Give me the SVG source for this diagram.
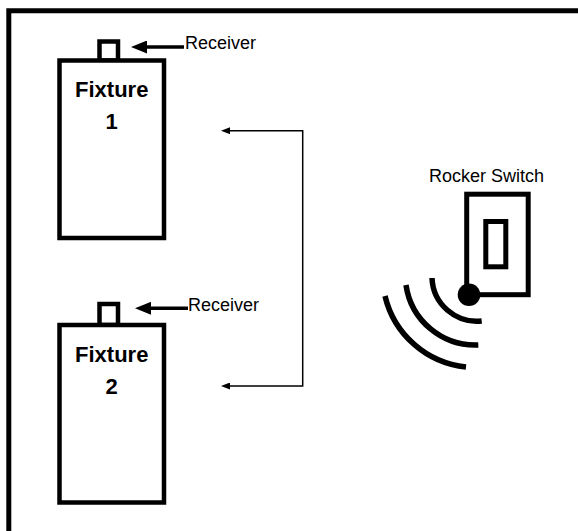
<svg xmlns="http://www.w3.org/2000/svg" width="578" height="531" viewBox="0 0 578 531">
  <style>
    .box { fill: #fff; stroke: #000; stroke-width: 4.5; }
    .sw { fill: none; stroke: #000; stroke-width: 5; }
    .wave { fill: none; stroke: #000; stroke-width: 5.5; stroke-linecap: butt; }
    .lbl { font-family: "Liberation Sans", Arial, sans-serif; font-size: 18px; fill: #000; }
    .title { font-family: "Liberation Sans", Arial, sans-serif; font-size: 22px; font-weight: bold; fill: #000; text-anchor: middle; }
    .thin { fill: none; stroke: #000; stroke-width: 1.5; }
    .thick { fill: none; stroke: #000; stroke-width: 3.5; }
  </style>
  <defs>
    <marker id="headSmall" markerUnits="userSpaceOnUse" markerWidth="9" markerHeight="7" refX="4" refY="3.5" orient="auto">
      <path d="M0,0 L9,3.5 L0,7 z" fill="#000"/>
    </marker>
    <marker id="headBig" markerUnits="userSpaceOnUse" markerWidth="16" markerHeight="13" refX="6" refY="6.5" orient="auto">
      <path d="M0,0 L16,6.5 L0,13 z" fill="#000"/>
    </marker>
  </defs>
  <rect width="578" height="531" fill="#fff"/>

  <g id="frame">
    <path d="M8.8,531 V10.8 H578" fill="none" stroke="#000" stroke-width="5" stroke-linejoin="miter"/>
  </g>

  <g id="fixture-1">
    <rect class="box" x="99.5" y="41.5" width="18.5" height="19"/>
    <rect class="box" x="59.5" y="60.5" width="104.5" height="177.5"/>
    <text class="title" x="111.7" y="97">Fixture</text>
    <text class="title" x="111.7" y="128.5">1</text>
  </g>

  <g id="receiver-label-1">
    <text class="lbl" x="185" y="48.5">Receiver</text>
  </g>

  <g id="fixture-2">
    <rect class="box" x="99.5" y="304" width="18.5" height="21"/>
    <rect class="box" x="59.5" y="325" width="104.5" height="177.5"/>
    <text class="title" x="111.7" y="362">Fixture</text>
    <text class="title" x="111.7" y="393.5">2</text>
  </g>

  <g id="receiver-label-2">
    <text class="lbl" x="188" y="310.5">Receiver</text>
  </g>

  <g id="rocker-switch">
    <text class="lbl" x="486.5" y="182" text-anchor="middle">Rocker Switch</text>
    <rect class="sw" x="466.7" y="194.2" width="61.5" height="100.5"/>
    <rect class="sw" x="485.8" y="221.5" width="20" height="45.3"/>
    <circle cx="469" cy="294.7" r="11.3" fill="#000"/>
    <path class="wave" d="M432,278 A45,45 0 0 0 481.7,321"/>
    <path class="wave" d="M406,285 A70,70 0 0 0 478.3,345"/>
    <path class="wave" d="M385,296 A93,93 0 0 0 466,367"/>
  </g>

  <g id="connectors">
    <path class="thick" d="M184,47 H141" marker-end="url(#headBig)"/>
    <path class="thick" d="M188,308.3 H145" marker-end="url(#headBig)"/>
    <path class="thin" d="M302.7,258 V130.7 H226" marker-end="url(#headSmall)"/>
    <path class="thin" d="M302.7,258 V386 H226" marker-end="url(#headSmall)"/>
  </g>
</svg>
